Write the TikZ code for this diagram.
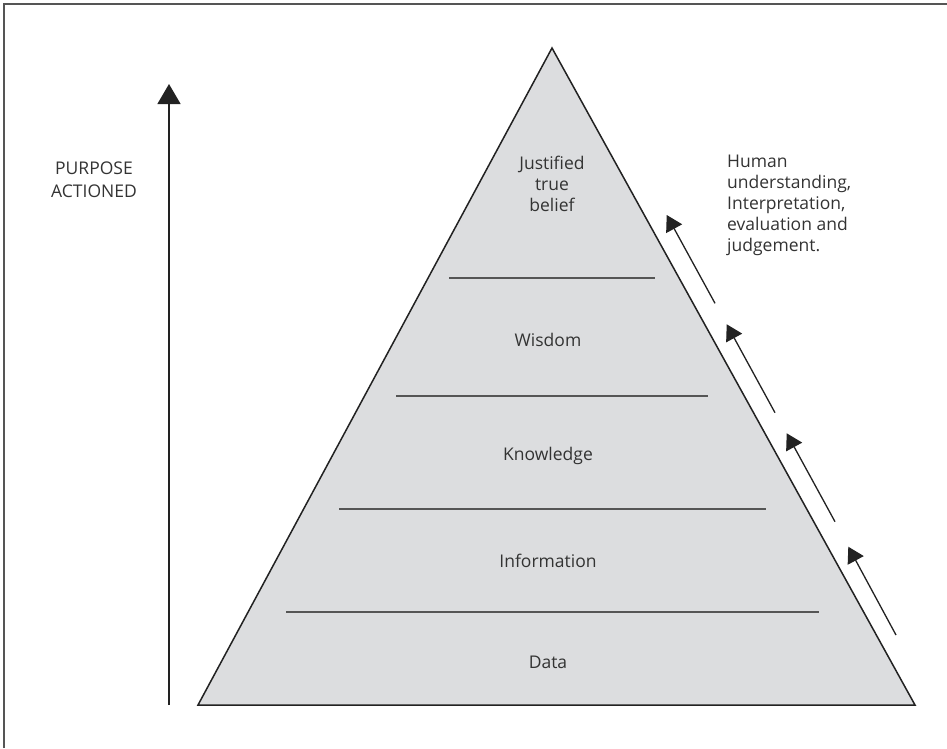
\documentclass[tikz,border=0pt]{standalone}
\usepackage{fontspec}
\setmainfont{Open Sans}
\usetikzlibrary{arrows.meta}
\definecolor{pyrfill}{HTML}{DCDDDF}
\definecolor{ink}{HTML}{333333}
\definecolor{edge}{HTML}{222222}
\definecolor{rulegray}{HTML}{555555}
\begin{document}
\begin{tikzpicture}[x=1pt,y=-1pt,
  txt/.style={text=ink, font=\fontsize{17.5}{21}\selectfont, inner sep=0pt},
  tier/.style={txt, anchor=base},
  divider/.style={draw=rulegray, line width=2},
  flow/.style={draw=edge, line width=1.3, -{Triangle[length=15.6, width=18]}},
  rise/.style={draw=edge, line width=1.5, -{Triangle[length=20, width=23]}}]
\useasboundingbox (0,0) rectangle (947,748);

% outer frame
\draw[rulegray, line width=2] (4,748) -- (4,4) -- (947,4);

% pyramid
\coordinate (apex) at (552,48);
\coordinate (bl) at (198,705);
\coordinate (br) at (915,705);
\filldraw[fill=pyrfill, draw=edge, line width=1.5] (apex) -- (br) -- (bl) -- cycle;

% tier dividers
\draw[divider] (449,278) -- (655,278);
\draw[divider] (396,396) -- (708,396);
\draw[divider] (339,509) -- (766,509);
\draw[divider] (286,612) -- (819,612);

% tier labels (multi-line nodes sit on the baseline of their last line)
\node[txt, align=center, anchor=base] (jtb) at (552,211.7) {Justified\\true\\belief};
\node[tier] (wisdom) at (548,346.7) {Wisdom};
\node[tier] (knowledge) at (548,460) {Knowledge};
\node[tier] (information) at (548,567.7) {Information};
\node[tier] (data) at (548,668.3) {Data};

% vertical purpose arrow
\coordinate (riseTail) at (169,705);
\coordinate (riseTip) at (169,84);
\draw[rise] (riseTail) -- (riseTip);
\node[txt, align=center, anchor=base, font=\fontsize{17.5}{23}\selectfont] (purpose) at (94,197) {PURPOSE\\ACTIONED};

% arrows along the right face
\coordinate (t1) at (715,303.3);  \coordinate (h1) at (666.7,215);
\coordinate (t2) at (775,412.7);  \coordinate (h2) at (726.7,324.3);
\coordinate (t3) at (835,521.7);  \coordinate (h3) at (786.7,433.3);
\coordinate (t4) at (896,635);    \coordinate (h4) at (848.3,546.7);
\draw[flow] (t1) -- (h1);
\draw[flow] (t2) -- (h2);
\draw[flow] (t3) -- (h3);
\draw[flow] (t4) -- (h4);

\node[txt, align=left, anchor=base west] (human) at (727,251.7)
  {Human\\understanding,\\Interpretation,\\evaluation and\\judgement.};
\end{tikzpicture}
\end{document}
